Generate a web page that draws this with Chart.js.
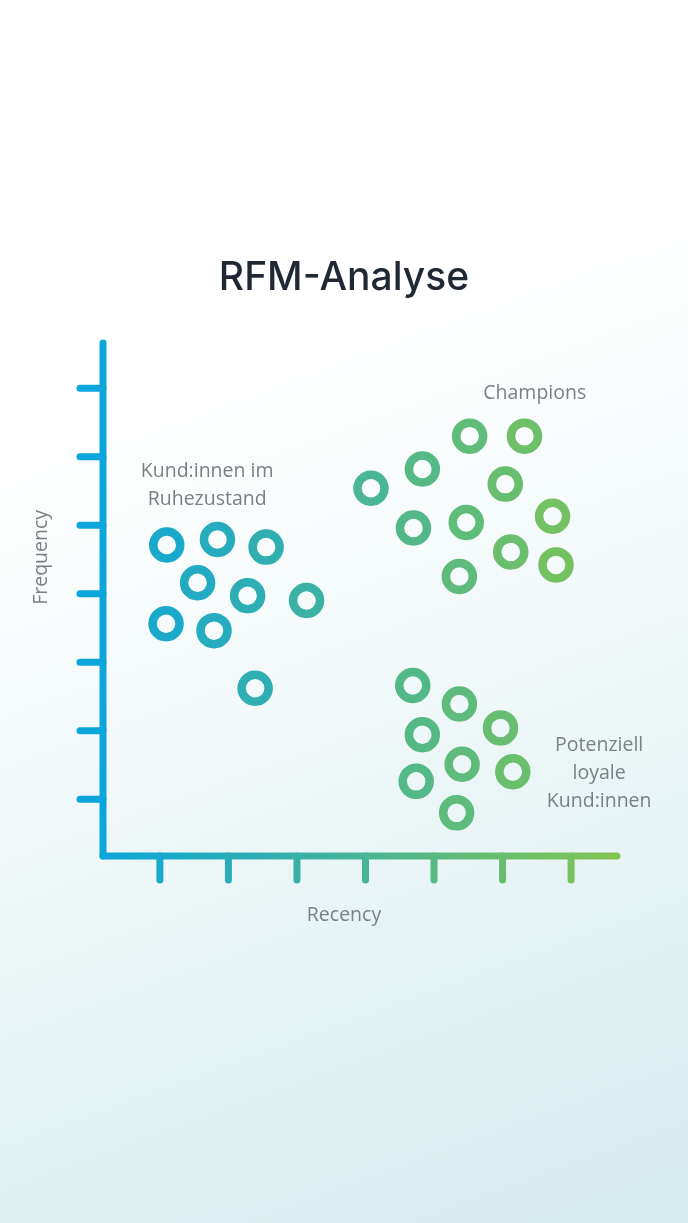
<!DOCTYPE html>
<html>
<head>
<meta charset="utf-8">
<script src="https://cdn.jsdelivr.net/npm/chart.js@4.4.1/dist/chart.umd.min.js"></script>
<style>
  html, body { margin: 0; padding: 0; }
  body {
    width: 688px; height: 1223px; overflow: hidden;
    background: linear-gradient(160deg, #ffffff 0%, #ffffff 30%, #eef7f8 62%, #d3ebee 100%);
  }
  #wrap { position: absolute; left: 0; top: 0; width: 688px; height: 1223px; }
</style>
</head>
<body>
<div id="wrap"><canvas id="c" width="688" height="1223"></canvas></div>
<script>
// ---- Data ----
const title = "RFM-Analyse";
const xAxisTitle = "Recency";
const yAxisTitle = "Frequency";
const tickValues = [1, 2, 3, 4, 5, 6, 7];

const dormantX = [1.10, 1.84, 2.55, 1.55, 2.28, 3.14, 1.09, 1.79, 2.39];
const dormantY = [4.71, 4.79, 4.68, 4.16, 3.97, 3.90, 3.56, 3.46, 2.62];

const championsX = [5.52, 6.32, 4.83, 4.08, 6.04, 4.70, 5.47, 6.73, 6.12, 6.78, 5.37];
const championsY = [6.30, 6.30, 5.82, 5.54, 5.60, 4.96, 5.04, 5.13, 4.61, 4.42, 4.25];

const loyalX = [4.69, 5.37, 5.97, 4.83, 5.41, 6.15, 4.74, 5.33];
const loyalY = [2.66, 2.39, 2.04, 1.94, 1.51, 1.40, 1.26, 0.80];

const dormantLabel = ["Kund:innen im", "Ruhezustand"];
const championsLabel = ["Champions"];
const loyalLabel = ["Potenziell", "loyale", "Kund:innen"];

// ---- Helpers ----
const BLUE = [12, 165, 220];
const GREEN = [130, 197, 80];
const X_MIN = 0.17, X_MAX = 7.67, Y_MIN = 0.17, Y_MAX = 7.66;

function mix(t) {
  t = Math.max(0, Math.min(1, t));
  const c = BLUE.map((b, i) => Math.round(b + (GREEN[i] - b) * t));
  return `rgb(${c[0]},${c[1]},${c[2]})`;
}
function pts(xs, ys) { return xs.map((x, i) => ({ x: x, y: ys[i] })); }

const ringColor = ctx => {
  const v = ctx.raw ? ctx.raw.x : 0;
  return mix((v - X_MIN) / (X_MAX - X_MIN));
};

const ds = (label, xs, ys) => ({
  label: label,
  data: pts(xs, ys),
  pointRadius: 13.5,
  pointHoverRadius: 13.5,
  pointBorderWidth: 8.5,
  pointHoverBorderWidth: 8.5,
  pointBackgroundColor: 'rgba(0,0,0,0)',
  pointBorderColor: ringColor,
  pointHoverBorderColor: ringColor,
  showLine: false,
  clip: false
});

const LABEL_FONT = '400 19.5px "Open Sans", Roboto, sans-serif';
const LABEL_COLOR = '#7b7f83';

const decor = {
  id: 'decor',
  beforeDatasetsDraw(chart) {
    const { ctx, chartArea: a, scales: { x, y } } = chart;
    const lw = 7;
    ctx.save();
    ctx.lineCap = 'round';
    ctx.lineWidth = lw;
    // y axis ticks
    ctx.strokeStyle = mix(0);
    tickValues.forEach(v => {
      const py = y.getPixelForValue(v);
      ctx.beginPath(); ctx.moveTo(a.left - 23, py); ctx.lineTo(a.left, py); ctx.stroke();
    });
    // x axis ticks
    tickValues.forEach(v => {
      const px = x.getPixelForValue(v);
      ctx.strokeStyle = mix((v - X_MIN) / (X_MAX - X_MIN));
      ctx.beginPath(); ctx.moveTo(px, a.bottom); ctx.lineTo(px, a.bottom + 24); ctx.stroke();
    });
    // y axis line
    ctx.strokeStyle = mix(0);
    ctx.beginPath(); ctx.moveTo(a.left, a.top); ctx.lineTo(a.left, a.bottom); ctx.stroke();
    // x axis line (gradient)
    const g = ctx.createLinearGradient(a.left, 0, a.right, 0);
    g.addColorStop(0, mix(0));
    g.addColorStop(1, mix(1));
    ctx.strokeStyle = g;
    ctx.beginPath(); ctx.moveTo(a.left, a.bottom); ctx.lineTo(a.right, a.bottom); ctx.stroke();

    // Title
    ctx.fillStyle = '#1f2833';
    ctx.font = '500 39px Inter, "Open Sans", sans-serif';
    ctx.textAlign = 'center';
    ctx.textBaseline = 'alphabetic';
    ctx.fillText(title, 344, 290);

    // Axis titles
    ctx.font = LABEL_FONT;
    ctx.fillStyle = LABEL_COLOR;
    ctx.textBaseline = 'middle';
    ctx.fillText(xAxisTitle, (a.left + a.right) / 2 - 16, a.bottom + 59);
    ctx.save();
    ctx.translate(41, y.getPixelForValue(4.53));
    ctx.rotate(-Math.PI / 2);
    ctx.fillText(yAxisTitle, 0, 0);
    ctx.restore();

    // Cluster labels (anchored in data coordinates)
    const block = (lines, vx, vy) => {
      const cx = x.getPixelForValue(vx), cy = y.getPixelForValue(vy);
      lines.forEach((t, i) => ctx.fillText(t, cx, cy + i * 28));
    };
    block(dormantLabel, 1.69, 5.78);
    block(championsLabel, 6.47, 6.93);
    block(loyalLabel, 7.41, 1.78);
    ctx.restore();
  }
};

new Chart(document.getElementById('c'), {
  type: 'scatter',
  data: {
    datasets: [
      ds('Kund:innen im Ruhezustand', dormantX, dormantY),
      ds('Champions', championsX, championsY),
      ds('Potenziell loyale Kund:innen', loyalX, loyalY)
    ]
  },
  options: {
    responsive: false,
    animation: false,
    events: [],
    layout: { padding: { left: 103, right: 71, top: 343, bottom: 367 } },
    scales: {
      x: { type: 'linear', min: X_MIN, max: X_MAX, display: false },
      y: { type: 'linear', min: Y_MIN, max: Y_MAX, display: false }
    },
    plugins: {
      legend: { display: false },
      tooltip: { enabled: false },
      title: { display: false }
    }
  },
  plugins: [decor]
});
</script>
</body>
</html>
